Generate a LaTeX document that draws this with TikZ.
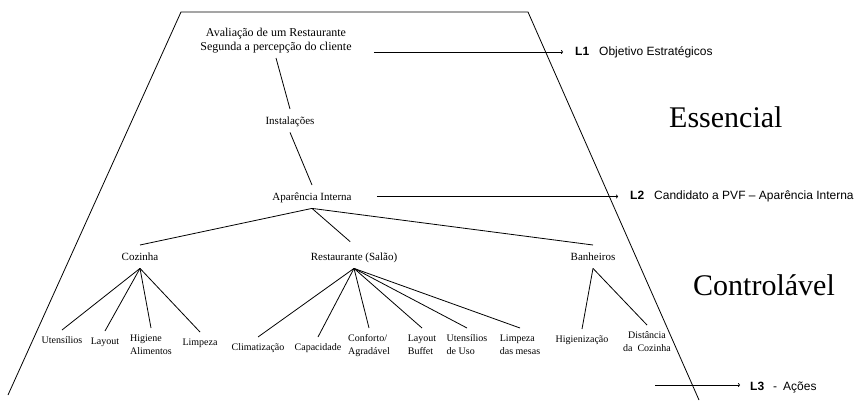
\documentclass[tikz,border=0pt]{standalone}
\usepackage{fontspec}
\setmainfont{Liberation Serif}
\newfontfamily\arialf{Liberation Sans}
\usetikzlibrary{arrows.meta}

\begin{document}
\begin{tikzpicture}[x=1pt,y=-1pt,
  every node/.style={inner xsep=0pt},
  edge/.style={line width=0.8pt},
  rootbox/.style={font=\fontsize{12}{14}\selectfont, align=center, inner ysep=4.5pt, anchor=south},
  midbox/.style={font=\fontsize{11}{13}\selectfont, text height=8pt, text depth=0pt, inner ysep=7.5pt, anchor=north},
  leafbox/.style={font=\fontsize{10}{13}\selectfont, inner ysep=6.5pt, anchor=north},
  lvlabel/.style={font=\arialf\fontsize{12}{14}\selectfont, anchor=west, inner sep=0pt},
  lvline/.style={line width=0.8pt, -{Straight Barb[length=1.2pt,width=3.5pt]}},
  bigword/.style={font=\fontsize{30}{36}\selectfont, anchor=base west, inner sep=0pt}
]
\useasboundingbox (0,0) rectangle (864,401);

% frame of the hierarchy
\draw[edge] (8,395) -- (181,12) -- (528,12) -- (699,400);

% levels of the hierarchy
\node[rootbox] (root) at (276,58) {Avaliação de um Restaurante\\Segunda a percepção do cliente};
\node[midbox] (inst) at (290,109) {Instalações};
\node[midbox] (ap)   at (312,185) {Aparência Interna};
\node[midbox] (coz)  at (140,245) {Cozinha};
\node[midbox] (rest) at (354,245) {Restaurante (Salão)};
\node[midbox] (ban)  at (593,245) {Banheiros};

% actions
\node[leafbox] (ute) at (62,330)  {Utensílios};
\node[leafbox] (lay) at (105,331) {Layout};
\node[leafbox, align=left] (hig) at (151,328) {Higiene\\Alimentos};
\node[leafbox] (lim) at (200,332) {Limpeza};
\node[leafbox] (cli) at (258,337) {Climatização};
\node[leafbox] (cap) at (318,337) {Capacidade};
\node[leafbox, align=left] (con) at (369,328) {Conforto/\\Agradável};
\node[leafbox, align=left] (lbu) at (422,328) {Layout\\Buffet};
\node[leafbox, align=left] (uso) at (467,328) {Utensílios\\de Uso};
\node[leafbox, align=left] (lme) at (520,328) {Limpeza\\das mesas};
\node[leafbox] (hgz) at (582,329) {Higienização};
\node[leafbox, align=center] (dis) at (647,325) {Distância\\da\ \ Cozinha};

% tree connectors
\draw[edge] (root.south) -- (inst.north);
\draw[edge] (inst.south) -- (ap.north);
\draw[edge] (ap.south) -- (coz.north);
\draw[edge, shorten >=5pt] (ap.south) -- (rest.north);
\draw[edge] (ap.south) -- (ban.north);
\foreach \c in {ute,lay,hig,lim} \draw[edge] (coz.south) -- (\c.north);
\foreach \c in {cli,cap,con,lbu,uso,lme} \draw[edge] (rest.south) -- (\c.north);
\foreach \c in {hgz,dis} \draw[edge] (ban.south) -- (\c.north);

% level markers
\node[lvlabel] (l1) at (575,52) {\textbf{L1}\hspace{10pt}Objetivo Estratégicos};
\node[lvlabel] (l2) at (630,196.5) {\textbf{L2}\hspace{10pt}Candidato a PVF – Aparência Interna};
\node[lvlabel] (l3) at (750,387) {\textbf{L3}\hspace{9pt}-\hspace{6pt}Ações};
\coordinate (l3start) at (655,385);

\draw[lvline] ([xshift=22pt]root.east |- l1.west) -- ([xshift=-12pt]l1.west);
\draw[lvline] ([xshift=25pt]ap.east |- l2.west) -- ([xshift=-12pt]l2.west);
\draw[lvline] (l3start) -- ([xshift=-10pt]l3.west |- l3start);

% zone names
\node[bigword] (ess) at (669,128) {Essencial};
\node[bigword] (ctl) at (693,295) {Controlável};
\end{tikzpicture}
\end{document}
